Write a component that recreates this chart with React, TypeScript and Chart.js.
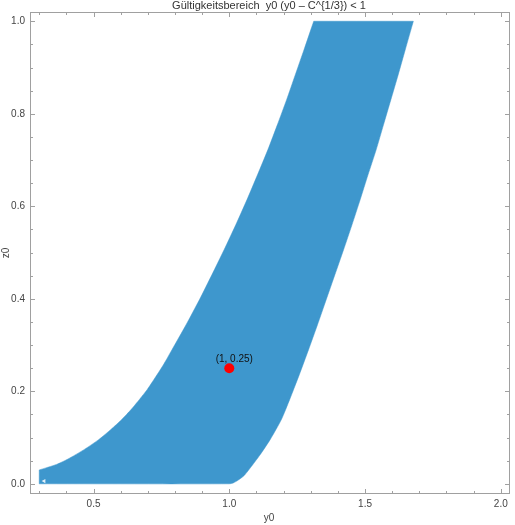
import React, { useEffect, useRef } from "react";
import { Chart, registerables } from "chart.js";

Chart.register(...registerables);

const chartTitle = "Gültigkeitsbereich  y0 (y0 – C^{1/3}) < 1";
const xAxisTitle = "y0";
const yAxisTitle = "z0";

// bottom edge of the region (z0 = 0)
const bottomEdgeX = [0.3, 1.0];
const bottomEdgeY = [0, 0];

// right boundary, from bottom to top
const rightCurveX = [1.015, 1.033, 1.055, 1.082, 1.115, 1.151, 1.192, 1.223, 1.258, 1.292, 1.325, 1.357, 1.389, 1.421, 1.452, 1.482, 1.511, 1.541, 1.568, 1.595, 1.622, 1.648, 1.678];
const rightCurveY = [0.002, 0.008, 0.018, 0.038, 0.064, 0.096, 0.139, 0.183, 0.236, 0.29, 0.344, 0.398, 0.452, 0.506, 0.56, 0.614, 0.668, 0.722, 0.776, 0.83, 0.884, 0.938, 1.0];

// left boundary, from top to bottom
const leftCurveX = [1.311, 1.275, 1.243, 1.211, 1.177, 1.142, 1.104, 1.065, 1.024, 0.981, 0.936, 0.89, 0.841, 0.789, 0.757, 0.723, 0.698, 0.67, 0.639, 0.604, 0.565, 0.52, 0.468, 0.404, 0.364, 0.3];
const leftCurveY = [1.0, 0.938, 0.884, 0.83, 0.776, 0.722, 0.668, 0.614, 0.56, 0.506, 0.452, 0.398, 0.344, 0.29, 0.257, 0.226, 0.204, 0.183, 0.161, 0.139, 0.118, 0.096, 0.075, 0.053, 0.042, 0.03];

const markX = [1];
const markY = [0.25];
const markLabels = ["(1, 0.25)"];

// small white arrow glyph inside the region's lower-left corner
const arrowX = [0.318];
const arrowY = [0.006];

const xMajorTicks = [0.5, 1.0, 1.5, 2.0];
const xMinorTicks = [0.3, 0.4, 0.6, 0.7, 0.8, 0.9, 1.1, 1.2, 1.3, 1.4, 1.6, 1.7, 1.8, 1.9];
const yMajorTicks = [0, 0.2, 0.4, 0.6, 0.8, 1.0];
const yMinorTicks = [0.05, 0.1, 0.15, 0.25, 0.3, 0.35, 0.45, 0.5, 0.55, 0.65, 0.7, 0.75, 0.85, 0.9, 0.95];

const FONT = "'Liberation Sans', Arial, sans-serif";
const FRAME = "#a0a0a0";
const REGION = "#3e97cd";

const framePlugin = {
  id: "framePlugin",
  afterDraw(chart: any) {
    const { ctx, chartArea: a, scales } = chart;
    const xs = scales.x;
    const ys = scales.y;
    ctx.save();
    ctx.strokeStyle = FRAME;
    ctx.lineWidth = 1;
    ctx.strokeRect(a.left + 0.5, a.top + 0.5, a.right - a.left - 1, a.bottom - a.top - 1);
    const tick = (x1: number, y1: number, x2: number, y2: number) => {
      ctx.beginPath();
      ctx.moveTo(x1, y1);
      ctx.lineTo(x2, y2);
      ctx.stroke();
    };
    const xt = (v: number, len: number) => {
      const p = Math.round(xs.getPixelForValue(v)) + 0.5;
      tick(p, a.bottom, p, a.bottom - len);
      tick(p, a.top, p, a.top + len);
    };
    const yt = (v: number, len: number) => {
      const p = Math.round(ys.getPixelForValue(v)) + 0.5;
      tick(a.left, p, a.left + len, p);
      tick(a.right, p, a.right - len, p);
    };
    xMajorTicks.forEach((v) => xt(v, 5));
    xMinorTicks.forEach((v) => xt(v, 3));
    yMajorTicks.forEach((v) => yt(v, 5));
    yMinorTicks.forEach((v) => yt(v, 3));

    // title
    ctx.fillStyle = "#333";
    ctx.font = `11px ${FONT}`;
    ctx.textAlign = "center";
    ctx.textBaseline = "middle";
    ctx.fillText(chartTitle, (a.left + a.right) / 2 - 1, 6);

    // axis titles
    ctx.fillStyle = "#444";
    ctx.font = `10px ${FONT}`;
    ctx.fillText(xAxisTitle, (a.left + a.right) / 2 - 1, 518);
    ctx.save();
    ctx.translate(6, (a.top + a.bottom) / 2);
    ctx.rotate(-Math.PI / 2);
    ctx.fillText(yAxisTitle, 0, 0);
    ctx.restore();

    // mark label
    ctx.fillStyle = "#111";
    ctx.font = `10px ${FONT}`;
    markX.forEach((v, i) => {
      const px = xs.getPixelForValue(v);
      const py = ys.getPixelForValue(markY[i]);
      ctx.fillText(markLabels[i], px + 5, py - 9);
    });
    ctx.restore();
  },
};

export default function App() {
  const ref = useRef<HTMLCanvasElement | null>(null);
  useEffect(() => {
    document.body.style.margin = "0";
    const polygon: { x: number; y: number }[] = [];
    const start = { x: bottomEdgeX[0], y: bottomEdgeY[0] };
    polygon.push(start, { ...start });
    polygon.push({ x: bottomEdgeX[1], y: bottomEdgeY[1] });
    rightCurveX.forEach((x, i) => polygon.push({ x, y: rightCurveY[i] }));
    // sharp corners at the top
    polygon.push({ x: rightCurveX[rightCurveX.length - 1], y: rightCurveY[rightCurveY.length - 1] });
    polygon.push({ x: leftCurveX[0], y: leftCurveY[0] });
    leftCurveX.forEach((x, i) => polygon.push({ x, y: leftCurveY[i] }));
    polygon.push({ x: leftCurveX[leftCurveX.length - 1], y: leftCurveY[leftCurveY.length - 1] });
    polygon.push({ ...start }, { ...start });

    const chart = new Chart(ref.current as HTMLCanvasElement, {
      type: "line",
      data: {
        datasets: [
          {
            label: "mark",
            type: "scatter",
            data: markX.map((x, i) => ({ x, y: markY[i] })),
            pointRadius: 5,
            pointBackgroundColor: "#ff0000",
            pointBorderWidth: 0,
            backgroundColor: "#ff0000",
            order: 1,
          } as any,
          {
            label: "arrow",
            type: "scatter",
            data: arrowX.map((x, i) => ({ x, y: arrowY[i] })),
            pointStyle: "triangle",
            rotation: -90,
            pointRadius: 2.5,
            pointBackgroundColor: "rgba(255,255,255,0.85)",
            pointBorderWidth: 0,
            order: 1,
          } as any,
          {
            label: "region",
            data: polygon,
            fill: "shape",
            backgroundColor: REGION,
            borderColor: REGION,
            borderWidth: 0.5,
            pointRadius: 0,
            tension: 0.2,
            order: 2,
          } as any,
        ],
      },
      options: {
        responsive: false,
        animation: false,
        layout: { padding: { top: 12, right: 1, left: 0, bottom: 0 } },
        plugins: {
          legend: { display: false },
          tooltip: { enabled: false },
          title: { display: false },
        },
        scales: {
          x: {
            type: "linear",
            min: 0.266,
            max: 2.034,
            afterBuildTicks: (s: any) => {
              s.ticks = xMajorTicks.map((v) => ({ value: v }));
            },
            afterFit: (s: any) => {
              s.height = 31;
            },
            ticks: {
              callback: (v: any) => Number(v).toFixed(1),
              font: { size: 10, family: FONT },
              color: "#444",
              padding: 4,
              maxRotation: 0,
              autoSkip: false,
            },
            grid: { display: false, drawTicks: false },
            border: { display: false },
          },
          y: {
            type: "linear",
            min: -0.022,
            max: 1.02,
            afterBuildTicks: (s: any) => {
              s.ticks = yMajorTicks.map((v) => ({ value: v }));
            },
            afterFit: (s: any) => {
              s.width = 30;
            },
            ticks: {
              callback: (v: any) => Number(v).toFixed(1),
              font: { size: 10, family: FONT },
              color: "#444",
              padding: 5,
              autoSkip: false,
            },
            grid: { display: false, drawTicks: false },
            border: { display: false },
          },
        },
      } as any,
      plugins: [framePlugin],
    });
    return () => chart.destroy();
  }, []);
  return <canvas ref={ref} width={515} height={525} style={{ display: "block" }} />;
}
